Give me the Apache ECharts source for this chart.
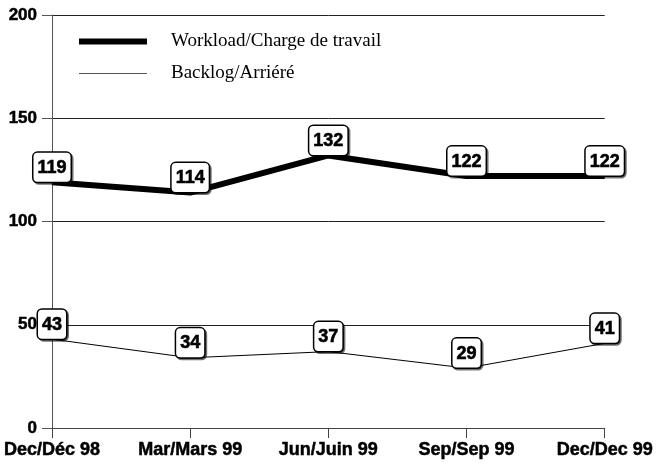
<!DOCTYPE html>
<html>
<head>
<meta charset="utf-8">
<script src="https://cdn.jsdelivr.net/npm/echarts@6/dist/echarts.min.js"></script>
<style>html,body{margin:0;padding:0;background:#fff}#c{width:656px;height:467px}</style>
</head>
<body>
<div id="c"></div>
<script>
var categories = ['Dec/Déc 98', 'Mar/Mars 99', 'Jun/Juin 99', 'Sep/Sep 99', 'Dec/Dec 99'];
var workload = [119, 114, 132, 122, 122];
var backlog = [43, 34, 37, 29, 41];
var yTicks = [0, 50, 100, 150, 200];
var seriesNames = ['Workload/Charge de travail', 'Backlog/Arriéré'];

var chart = echarts.init(document.getElementById('c'), null, {renderer: 'canvas'});
var labelStyle = {
  show: true,
  position: 'top',
  distance: 0,
  fontFamily: 'Liberation Sans, Arial, sans-serif',
  fontWeight: 'bold',
  fontSize: 18,
  color: '#000',
  textBorderColor: '#000',
  textBorderWidth: 0.6,
  backgroundColor: '#fff',
  borderColor: '#000',
  borderWidth: 1.5,
  borderRadius: 4,
  padding: [6, 4, 5, 4],
  shadowColor: 'rgba(0,0,0,0.55)',
  shadowOffsetX: 1.5,
  shadowOffsetY: 1.5,
  shadowBlur: 0
};
var legendText = {fontFamily: 'Liberation Serif, Times New Roman, serif', fontSize: 19, color: '#000', padding: [0, 0, 0, 19]};
chart.setOption({
  animation: false,
  backgroundColor: '#fff',
  grid: {left: 52, right: 48, top: 15, bottom: 39, containLabel: false},
  legend: [
    {data: [seriesNames[0]], orient: 'vertical', left: 74, top: 27, icon: 'rect', itemWidth: 68, itemHeight: 6,
     itemStyle: {color: '#000'}, textStyle: legendText, selectedMode: false},
    {data: [seriesNames[1]], orient: 'vertical', left: 74, top: 59, icon: 'rect', itemWidth: 68, itemHeight: 1,
     itemStyle: {color: '#555'}, textStyle: legendText, selectedMode: false}
  ],
  xAxis: {
    type: 'category',
    data: categories,
    boundaryGap: false,
    axisLine: {show: true, lineStyle: {color: '#444', width: 1}},
    axisTick: {show: true, length: 10, lineStyle: {color: '#444'}},
    axisLabel: {interval: 0, margin: 13, fontFamily: 'Liberation Sans, Arial, sans-serif', fontWeight: 'bold', fontSize: 18, color: '#000',
      textBorderColor: '#000', textBorderWidth: 0.5},
    splitLine: {show: false}
  },
  yAxis: {
    type: 'value',
    min: yTicks[0],
    max: yTicks[yTicks.length - 1],
    interval: yTicks[1] - yTicks[0],
    axisLine: {show: true, lineStyle: {color: '#555', width: 1}},
    axisTick: {show: true, length: 10, lineStyle: {color: '#555'}},
    axisLabel: {margin: 15, fontFamily: 'Liberation Sans, Arial, sans-serif', fontWeight: 'bold', fontSize: 17, color: '#000',
      textBorderColor: '#000', textBorderWidth: 0.5},
    splitLine: {show: true, lineStyle: {color: '#222', width: 1}}
  },
  series: [
    {
      name: seriesNames[0], type: 'line', data: workload,
      symbol: 'circle', symbolSize: 1, showSymbol: true,
      itemStyle: {color: '#000'},
      lineStyle: {color: '#000', width: 6},
      label: labelStyle, z: 3
    },
    {
      name: seriesNames[1], type: 'line', data: backlog,
      symbol: 'circle', symbolSize: 1, showSymbol: true,
      itemStyle: {color: '#000'},
      lineStyle: {color: '#000', width: 1},
      label: labelStyle, z: 2
    }
  ]
});
</script>
</body>
</html>
